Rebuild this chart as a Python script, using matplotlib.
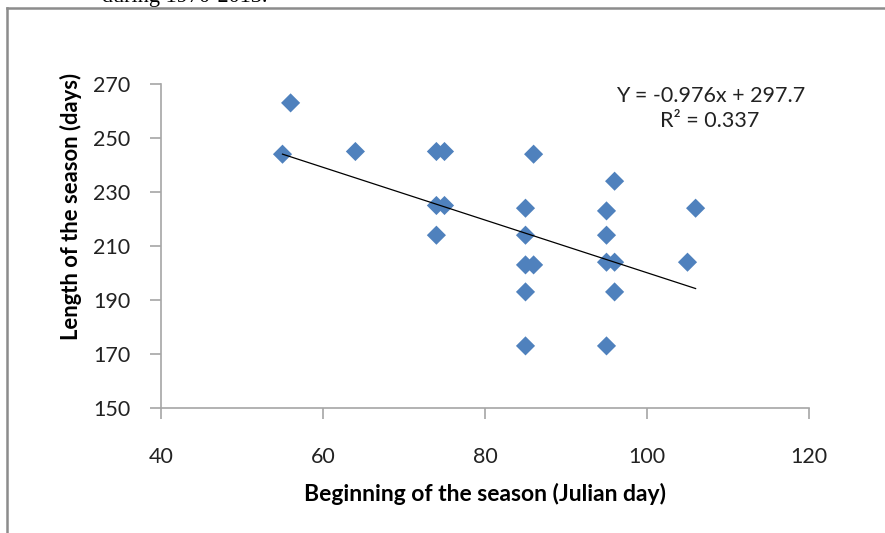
import numpy as np
import matplotlib.pyplot as plt
from matplotlib.lines import Line2D

# beginning of the season (Julian day) vs length of the season (days)
begin_day = [55, 56, 64, 74, 75, 74, 75, 74, 86, 85, 85, 85, 86, 85, 85,
             96, 95, 95, 95, 96, 96, 95, 105, 106]
season_len = [244, 263, 245, 245, 245, 225, 225, 214, 244, 224, 214, 203, 203, 193, 173,
              234, 223, 214, 204, 204, 193, 173, 204, 224]

slope = -0.976
intercept = 297.7
r2 = 0.337

x_ticks = [40, 60, 80, 100, 120]
y_ticks = [150, 170, 190, 210, 230, 250, 270]

plt.rcParams['font.family'] = ['Lato', 'DejaVu Sans']

fig = plt.figure(figsize=(8.85, 5.33), dpi=100)
ax = fig.add_axes([161 / 885, 1 - 408 / 533, 648 / 885, 324 / 533])

ax.scatter(begin_day, season_len, marker='D', s=95, color='#4F81BD',
           edgecolors='none', zorder=3)

xs = np.array([min(begin_day), max(begin_day)])
ax.plot(xs, slope * xs + intercept, color='black', lw=0.9, zorder=4)

ax.set_xlim(40, 120)
ax.set_ylim(150, 270)
ax.set_xticks(x_ticks)
ax.set_yticks(y_ticks)

for s in ['top', 'right']:
    ax.spines[s].set_visible(False)
for s in ['left', 'bottom']:
    ax.spines[s].set_color('#a6a6a6')
    ax.spines[s].set_linewidth(1.2)
ax.tick_params(axis='both', colors='#a6a6a6', length=8, width=1.2,
               labelcolor='#222222', labelsize=15.5)
ax.tick_params(axis='x', pad=20)
ax.tick_params(axis='y', pad=14)

ax.text(107.8, 261, f'Y = {slope}x + {intercept}\nR² = {r2}', ha='center', va='center',
        fontsize=15.5, color='#222222', linespacing=1.3)

fig.text(485 / 885, 1 - 494 / 533, 'Beginning of the season (Julian day)',
         ha='center', va='center', fontsize=16.5, fontweight='bold')
fig.text(71 / 885, 1 - 206 / 533, 'Length of the season (days)', rotation=90,
         ha='center', va='center', fontsize=15.8, fontweight='bold')

# clipped caption and frame from the source page
fig.text(102 / 885, 1 - 2 / 533, 'during 1970-2013.', ha='left', va='baseline',
         fontsize=16, family='Liberation Serif')
fig.add_artist(Line2D([7 / 885, 1], [1 - 8 / 533, 1 - 8 / 533], color='#8c8c8c', lw=1.8))
fig.add_artist(Line2D([7 / 885, 7 / 885], [0, 1 - 8 / 533], color='#8c8c8c', lw=1.8))

fig.savefig('out.png', dpi=100)
